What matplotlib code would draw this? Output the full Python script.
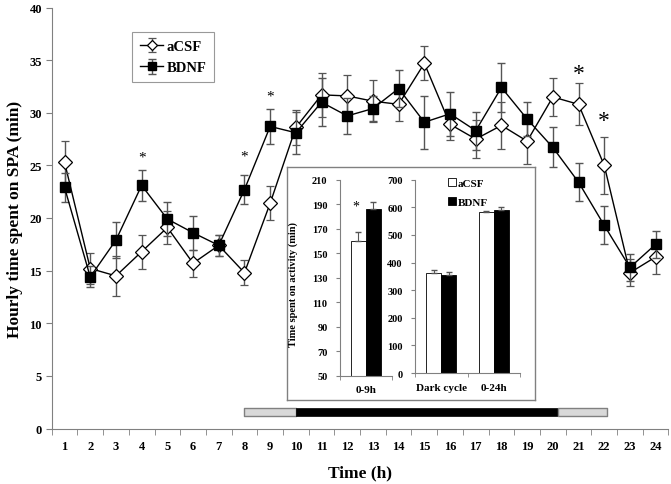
import matplotlib
matplotlib.use("Agg")
import matplotlib.pyplot as plt
import numpy as np

plt.rcParams['font.family'] = ['Liberation Serif', 'DejaVu Serif']
plt.rcParams['font.weight'] = 'bold'

# hourly data
hours = list(range(1, 25))
acsf = [25.3, 15.2, 14.5, 16.8, 19.1, 15.7, 17.4, 14.8, 21.4, 28.6, 31.7, 31.6,
        31.1, 30.8, 34.7, 28.9, 27.5, 28.8, 27.3, 31.5, 30.8, 25.0, 14.8, 16.3]
acsf_err = [2.0, 1.5, 1.9, 1.6, 1.6, 1.3, 1.0, 1.2, 1.6, 1.7, 2.1, 2.0,
            2.0, 1.6, 1.6, 1.5, 1.8, 2.2, 2.2, 1.8, 2.0, 2.7, 1.3, 1.6]
bdnf = [22.9, 14.4, 17.9, 23.1, 19.9, 18.6, 17.4, 22.7, 28.7, 28.1, 31.0, 29.7,
        30.4, 32.3, 29.1, 29.9, 28.3, 32.4, 29.4, 26.7, 23.4, 19.3, 15.3, 17.5]
bdnf_err = [1.4, 1.0, 1.7, 1.5, 1.6, 1.6, 1.0, 1.4, 1.7, 2.0, 2.3, 1.7,
            1.2, 1.8, 2.5, 2.1, 1.8, 2.3, 1.6, 1.9, 1.8, 1.8, 1.3, 1.3]

# significance marks
star_small_x = [4, 8, 9]
star_small_y = [25.8, 25.9, 31.6]
star_big_x = [21, 22]
star_big_y = [33.7, 29.3]

# light / dark cycle bar (start, end) in hours
light1 = (8.0, 10.0)
dark = (10.0, 20.2)
light2 = (20.2, 22.1)

# inset data
inset_left_cat = ['0-9h']
inset_left_acsf = [160]
inset_left_acsf_err = [7]
inset_left_bdnf = [186]
inset_left_bdnf_err = [6]
inset_right_cat = ['Dark cycle', '0-24h']
inset_right_acsf = [363, 582]
inset_right_acsf_err = [11, 6]
inset_right_bdnf = [356, 590]
inset_right_bdnf_err = [11, 10]

W, H = 671, 485
fig = plt.figure(figsize=(W / 100, H / 100), dpi=100)

def box(x0, y0, x1, y1):
    # pixel box -> figure fraction
    return [x0 / W, 1 - y1 / H, (x1 - x0) / W, (y1 - y0) / H]

ax = fig.add_axes(box(51.7, 8.5, 668.5, 429.5))
ax.set_zorder(0)
gray = '#808080'
ebc = '#555555'

ax.errorbar(hours, acsf, yerr=acsf_err, color='black', lw=1, ecolor=ebc,
            elinewidth=1, capsize=3, marker='D', ms=7, mfc='white', mec='black',
            mew=0.9, label='aCSF', zorder=3)
ax.errorbar(hours, bdnf, yerr=bdnf_err, color='black', lw=1, ecolor=ebc,
            elinewidth=1, capsize=3, marker='s', ms=7, mfc='black', mec='black',
            label='BDNF', zorder=4)

for x, y in zip(star_small_x, star_small_y):
    ax.text(x, y, '*', ha='center', va='center', fontsize=11, fontweight='normal')
for x, y in zip(star_big_x, star_big_y):
    ax.text(x, y, '*', ha='center', va='center', fontsize=17, fontweight='normal')

ax.broken_barh([(light1[0], light1[1] - light1[0])], (1.2, 0.75),
               facecolors='#d9d9d9', edgecolors=gray, lw=1)
ax.broken_barh([(dark[0], dark[1] - dark[0])], (1.2, 0.75),
               facecolors='black', edgecolors='black', lw=0.5)
ax.broken_barh([(light2[0], light2[1] - light2[0])], (1.2, 0.75),
               facecolors='#d9d9d9', edgecolors=gray, lw=1)

ax.set_xlim(0.5, 24.5)
ax.set_ylim(0, 40)
ax.set_yticks(range(0, 41, 5))
ax.set_xticks(hours)
ax.set_xticks(np.arange(0.5, 25, 1), minor=True)
ax.tick_params(axis='x', which='major', length=0, pad=8, labelsize=9)
ax.tick_params(axis='x', which='minor', length=4, color=gray, direction='out')
ax.tick_params(axis='y', length=4, color=gray, labelsize=9, pad=3)
for lab in ax.get_xticklabels() + ax.get_yticklabels():
    lab.set_fontweight('bold')
for s in ['top', 'right']:
    ax.spines[s].set_visible(False)
for s in ['left', 'bottom']:
    ax.spines[s].set_color(gray)
ax.set_xlabel('Time (h)', fontsize=12.5, fontweight='bold', labelpad=9)
ax.set_ylabel('Hourly time spent on SPA (min)', fontsize=12.5, fontweight='bold', labelpad=5)

leg = ax.legend(loc='upper left', bbox_to_anchor=((132 - 51.7) / 617, 1 - (33 - 8.5) / 421),
                borderaxespad=0, frameon=True, fancybox=False, edgecolor=gray, fontsize=10.5,
                handlelength=1.6, handletextpad=0.2, borderpad=0.55, labelspacing=0.55,
                markerscale=0.75)
leg.get_frame().set_linewidth(0.8)
for t in leg.get_texts():
    t.set_fontweight('bold')

# inset frame
fr = fig.add_axes(box(287, 168, 535, 401))
fr.set_zorder(5)
fr.set_xticks([])
fr.set_yticks([])
for s in fr.spines.values():
    s.set_color(gray)
    s.set_linewidth(1)
fr.set_facecolor('white')
fr.text(0.025, 0.5, 'Time spent on activity (min)', rotation=90, ha='center', va='center',
        fontsize=7.5, fontweight='bold', transform=fr.transAxes)

bw = 0.29
ekw = dict(ecolor=ebc, elinewidth=0.8, capsize=2.5)
a1 = fig.add_axes(box(340, 180.7, 391.7, 376.7))
a1.set_zorder(6)
a1.patch.set_alpha(0)
x1 = np.arange(len(inset_left_cat))
a1.bar(x1 - bw / 2, inset_left_acsf, bw, color='white', edgecolor='black', lw=0.6,
       yerr=[[0] * len(x1), inset_left_acsf_err], error_kw=ekw)
a1.bar(x1 + bw / 2, inset_left_bdnf, bw, color='black', edgecolor='black', lw=0.6,
       yerr=[[0] * len(x1), inset_left_bdnf_err], error_kw=ekw)
a1.text(-0.19, 188.5, '*', ha='center', va='center', fontsize=10, fontweight='normal')
a1.set_xlim(-0.5, 0.5)
a1.set_ylim(50, 210)
a1.set_yticks(range(50, 211, 20))
a1.set_xticks(x1)
a1.set_xticklabels(inset_left_cat)
a1.set_xticks([-0.5, 0.5], minor=True)

a2 = fig.add_axes(box(415, 180.7, 520, 374))
a2.set_zorder(6)
a2.patch.set_alpha(0)
x2 = np.arange(len(inset_right_cat))
a2.bar(x2 - bw / 2, inset_right_acsf, bw, color='white', edgecolor='black', lw=0.6,
       yerr=[[0] * len(x2), inset_right_acsf_err], error_kw=ekw, label='aCSF')
a2.bar(x2 + bw / 2, inset_right_bdnf, bw, color='black', edgecolor='black', lw=0.6,
       yerr=[[0] * len(x2), inset_right_bdnf_err], error_kw=ekw, label='BDNF')
a2.set_xlim(-0.5, 1.5)
a2.set_ylim(0, 700)
a2.set_yticks(range(0, 701, 100))
a2.set_xticks(x2)
a2.set_xticklabels(inset_right_cat)
a2.set_xticks([-0.5, 0.5, 1.5], minor=True)

for a in (a1, a2):
    for s in ['top', 'right']:
        a.spines[s].set_visible(False)
    for s in ['left', 'bottom']:
        a.spines[s].set_color(gray)
        a.spines[s].set_linewidth(0.8)
    a.tick_params(axis='x', which='major', length=0, pad=7, labelsize=8)
    a.tick_params(axis='x', which='minor', length=3, color=gray)
    a.tick_params(axis='y', length=3, color=gray, labelsize=7.5, pad=6)
    for lab in a.get_xticklabels() + a.get_yticklabels():
        lab.set_fontweight('bold')

leg2 = a2.legend(loc='upper left', bbox_to_anchor=(0.27, 1.03), frameon=False, fontsize=8,
                 handlelength=0.7, handleheight=0.7, handletextpad=0.2, labelspacing=0.8,
                 borderaxespad=0)
for t in leg2.get_texts():
    t.set_fontweight('bold')

fig.savefig('out.png', dpi=100)
